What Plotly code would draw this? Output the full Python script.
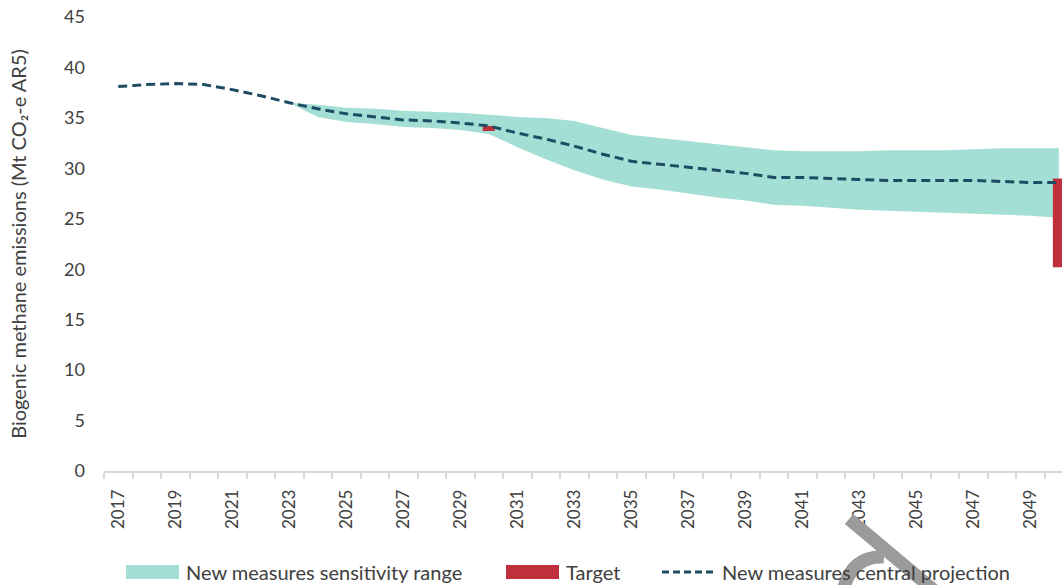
import plotly.graph_objects as go

# data
years = list(range(2017, 2051))
central = [38.1, 38.3, 38.4, 38.3, 37.8, 37.2, 36.5, 35.9, 35.4, 35.1,
           34.8, 34.7, 34.5, 34.2, 33.5, 32.9, 32.2, 31.4, 30.7, 30.4,
           30.1, 29.8, 29.5, 29.1, 29.1, 29.0, 28.9, 28.8, 28.8, 28.8,
           28.8, 28.7, 28.6, 28.6]

range_years = list(range(2023, 2051))
range_upper = [36.5, 36.3, 36.0, 35.9, 35.7, 35.6, 35.5, 35.3, 35.1, 35.0,
               34.7, 34.0, 33.3, 33.0, 32.7, 32.4, 32.1, 31.8, 31.7, 31.7,
               31.7, 31.8, 31.8, 31.8, 31.9, 32.0, 32.0, 32.0]
range_lower = [36.5, 35.1, 34.6, 34.4, 34.1, 34.0, 33.8, 33.4, 32.1, 30.9,
               29.8, 28.9, 28.2, 27.9, 27.5, 27.1, 26.8, 26.4, 26.3, 26.1,
               25.9, 25.8, 25.7, 25.6, 25.5, 25.4, 25.3, 25.1]

target_years = [2030, 2050]
target_low = [33.7, 20.2]
target_high = [34.2, 29.0]

tick_years = years[::2]

TEAL = "#A4DFD5"
RED = "#C0303A"
NAVY = "#1E4D63"
TXT = "#404040"
FONT = "Lato"

fig = go.Figure()

# sensitivity range
fig.add_trace(
    go.Scatter(
        x=range_years,
        y=range_lower,
        mode="lines",
        line=dict(width=0),
        hoverinfo="skip",
        showlegend=False,
    )
)
fig.add_trace(
    go.Scatter(
        x=range_years,
        y=range_upper,
        mode="lines",
        line=dict(width=0),
        fill="tonexty",
        fillcolor=TEAL,
        name="New measures sensitivity range",
        showlegend=False,
    )
)

# target, drawn as thick vertical segments so it sits above the range
tx, ty = [], []
for yr, lo, hi in zip(target_years, target_low, target_high):
    tx += [yr, yr, None]
    ty += [lo, hi, None]
fig.add_trace(
    go.Scatter(
        x=tx,
        y=ty,
        mode="lines",
        line=dict(color=RED, width=12),
        name="Target",
        showlegend=False,
    )
)

# central projection
fig.add_trace(
    go.Scatter(
        x=years,
        y=central,
        mode="lines",
        line=dict(color=NAVY, width=3, dash="9px,5px"),
        name="New measures central projection",
        showlegend=False,
    )
)

# plot area in pixels, used for the hand drawn legend
L, R, T, B = 104, 0, 17, 114
W, H = 1062, 585
pw, ph = W - L - R, H - T - B


def px(x):
    return (x - L) / pw


def py(y):
    return (H - B - y) / ph


# legend drawn by hand so the keys are wide boxes like the original
legend_y = 572
keys = [
    ("box", TEAL, 126, 179, "New measures sensitivity range"),
    ("box", RED, 506, 559, "Target"),
    ("dash", NAVY, 662, 715, "New measures central projection"),
]
for kind, color, x0, x1, label in keys:
    if kind == "box":
        fig.add_shape(
            type="rect", xref="paper", yref="paper",
            x0=px(x0), x1=px(x1), y0=py(legend_y + 7), y1=py(legend_y - 7),
            fillcolor=color, line=dict(width=0),
        )
    else:
        fig.add_shape(
            type="line", xref="paper", yref="paper",
            x0=px(x0), x1=px(x1), y0=py(legend_y), y1=py(legend_y),
            line=dict(color=color, width=3, dash="7px,4px"),
        )
    fig.add_annotation(
        xref="paper", yref="paper", x=px(x1 + 5), y=py(legend_y),
        xanchor="left", yanchor="middle", showarrow=False,
        text=label, font=dict(family=FONT, size=20, color=TXT),
    )

# grey arrow overlay at the bottom
fig.add_shape(
    type="line", xref="paper", yref="paper",
    x0=px(849), y0=py(519), x1=px(936), y1=py(592),
    line=dict(color="#9B9B9B", width=13),
)
fig.add_shape(
    type="path", xref="paper", yref="paper",
    path="M %f,%f Q %f,%f %f,%f" % (px(884), py(557), px(850), py(555), px(842), py(595)),
    line=dict(color="#9B9B9B", width=13),
)

fig.update_layout(
    width=W,
    height=H,
    margin=dict(l=L, r=R, t=T, b=B, autoexpand=False),
    plot_bgcolor="white",
    paper_bgcolor="white",
    font=dict(family=FONT, size=17, color=TXT),
    xaxis=dict(
        range=[2016.5, 2050.11],
        tickvals=tick_years,
        ticktext=[str(y) for y in tick_years],
        tickangle=-90,
        ticks="",
        ticklabelstandoff=10,
        automargin=False,
        showgrid=False,
        zeroline=False,
        showline=True,
        linecolor="#D9D9D9",
        linewidth=1.5,
        tickfont=dict(family=FONT, size=17, color=TXT),
        minor=dict(
            tickvals=[y - 0.5 for y in years] + [years[-1] + 0.5],
            ticks="outside",
            ticklen=6,
            tickcolor="#D9D9D9",
            tickwidth=1.5,
            showgrid=False,
        ),
    ),
    yaxis=dict(
        range=[0, 45],
        dtick=5,
        automargin=False,
        showgrid=False,
        zeroline=False,
        showline=False,
        ticks="",
        ticklabelstandoff=18,
        tickfont=dict(family=FONT, size=18, color=TXT),
        title=dict(
            text="Biogenic methane emissions (Mt CO\u2082-e AR5)",
            font=dict(family=FONT, size=20, color=TXT),
            standoff=32,
        ),
    ),
)

# the page body has a default 8px margin; drop it so the figure fills the window
fig.write_html(
    "out.html",
    config={"displayModeBar": False},
    post_script="document.body.style.margin='0';",
)
